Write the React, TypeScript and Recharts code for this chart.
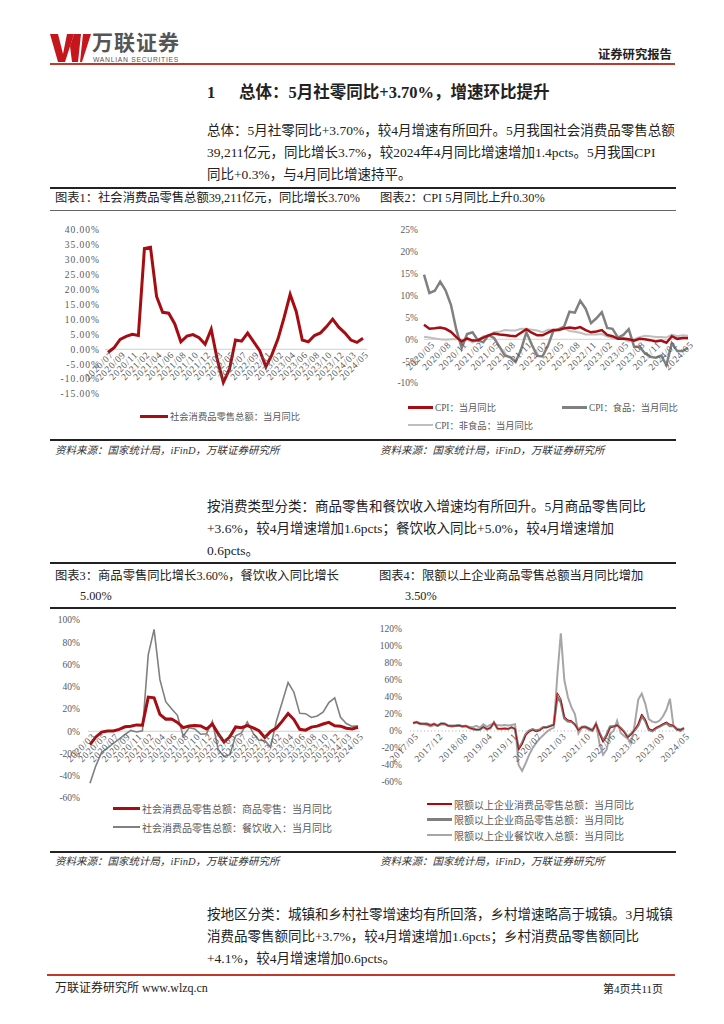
import { LineChart, Line, XAxis, YAxis, ReferenceLine } from 'recharts';

const FONT = '"Liberation Serif", "Noto Sans CJK SC", serif';
const RED = '#a50d12';
const GREY = '#808080';
const LIGHT = '#bfbfbf';
const AXIS_TEXT = '#595959';

// 图表1：社会消费品零售总额当月同比（%），1-2月合并
const retailMonths = [
  '2020/07', '2020/08', '2020/09', '2020/10', '2020/11', '2020/12',
  '2021/02', '2021/03', '2021/04', '2021/05', '2021/06', '2021/07', '2021/08', '2021/09', '2021/10', '2021/11', '2021/12',
  '2022/02', '2022/03', '2022/04', '2022/05', '2022/06', '2022/07', '2022/08', '2022/09', '2022/10', '2022/11', '2022/12',
  '2023/02', '2023/03', '2023/04', '2023/05', '2023/06', '2023/07', '2023/08', '2023/09', '2023/10', '2023/11', '2023/12',
  '2024/02', '2024/03', '2024/04', '2024/05',
];
const retailYoY = [
  -1.1, 0.5, 3.3, 4.3, 5.0, 4.6,
  33.8, 34.2, 17.7, 12.4, 12.1, 8.5, 2.5, 4.4, 4.9, 3.9, 1.7,
  6.7, -3.5, -11.1, -6.7, 3.1, 2.7, 5.4, 2.5, -0.5, -5.9, -1.8,
  3.5, 10.6, 18.4, 12.7, 3.1, 2.5, 4.6, 5.5, 7.6, 10.1, 7.4,
  5.5, 3.1, 2.3, 3.7,
];
const retailTicks = [-15, -10, -5, 0, 5, 10, 15, 20, 25, 30, 35, 40];

// 图表2：CPI 当月同比（%）
const cpiMonths = [
  '2020/04', '2020/05', '2020/06', '2020/07', '2020/08', '2020/09', '2020/10', '2020/11', '2020/12',
  '2021/01', '2021/02', '2021/03', '2021/04', '2021/05', '2021/06', '2021/07', '2021/08', '2021/09', '2021/10', '2021/11', '2021/12',
  '2022/01', '2022/02', '2022/03', '2022/04', '2022/05', '2022/06', '2022/07', '2022/08', '2022/09', '2022/10', '2022/11', '2022/12',
  '2023/01', '2023/02', '2023/03', '2023/04', '2023/05', '2023/06', '2023/07', '2023/08', '2023/09', '2023/10', '2023/11', '2023/12',
  '2024/01', '2024/02', '2024/03', '2024/04', '2024/05',
];
const cpiYoY = [
  3.3, 2.4, 2.5, 2.7, 2.4, 1.7, 0.5, -0.5, 0.2,
  -0.3, -0.2, 0.4, 0.9, 1.3, 1.1, 1.0, 0.8, 0.7, 1.5, 2.3, 1.5,
  0.9, 0.9, 1.5, 2.1, 2.1, 2.5, 2.7, 2.5, 2.8, 2.1, 1.6, 1.8,
  2.1, 1.0, 0.7, 0.1, 0.2, 0.0, -0.3, 0.1, 0.0, -0.2, -0.5, -0.3,
  -0.8, 0.7, 0.1, 0.3, 0.3,
];
const cpiFood = [
  14.8, 10.6, 11.1, 13.2, 11.2, 7.9, 2.2, -2.0, 1.2,
  1.6, -0.2, -0.7, 0.9, 0.3, -1.7, -3.7, -4.1, -5.2, -2.4, 1.6, -1.2,
  -3.8, -3.9, -1.5, 1.9, 2.3, 2.9, 6.3, 6.1, 8.8, 7.0, 3.7, 4.8,
  6.2, 2.6, 2.4, 0.4, 1.0, 2.3, -1.7, -1.7, -3.2, -4.0, -4.2, -3.7,
  -5.9, -0.9, -2.7, -2.7, -2.0,
];
const cpiNonFood = [
  0.6, 0.4, 0.2, 0.0, -0.1, 0.0, 0.0, -0.1, -0.1,
  -0.7, -0.2, 0.7, 0.9, 1.6, 1.7, 2.1, 2.0, 2.0, 2.4, 2.4, 2.2,
  2.0, 1.6, 2.2, 2.2, 2.1, 2.5, 1.9, 1.7, 1.5, 1.1, 1.1, 1.1,
  1.2, 0.6, 0.3, 0.1, 0.0, -0.5, 0.0, 0.5, 0.8, 0.7, 0.5, 0.5,
  0.4, 1.1, 0.7, 0.9, 0.8,
];
const cpiTickMonths = [
  '2020/05', '2020/08', '2020/11', '2021/02', '2021/05', '2021/08', '2021/11', '2022/02', '2022/05',
  '2022/08', '2022/11', '2023/02', '2023/05', '2023/08', '2023/11', '2024/02', '2024/05',
];
const cpiTicks = [-10, -5, 0, 5, 10, 15, 20, 25];

// 图表3：商品零售 / 餐饮收入 当月同比（%）
const typeMonths = [
  '2020/03', '2020/04', '2020/05', '2020/06', '2020/07', '2020/08', '2020/09', '2020/10', '2020/11', '2020/12',
  '2021/02', '2021/03', '2021/04', '2021/05', '2021/06', '2021/07', '2021/08', '2021/09', '2021/10', '2021/11', '2021/12',
  '2022/02', '2022/03', '2022/04', '2022/05', '2022/06', '2022/07', '2022/08', '2022/09', '2022/10', '2022/11', '2022/12',
  '2023/02', '2023/03', '2023/04', '2023/05', '2023/06', '2023/07', '2023/08', '2023/09', '2023/10', '2023/11', '2023/12',
  '2024/02', '2024/03', '2024/04', '2024/05',
];
const goodsYoY = [
  -12.0, -5.1, -0.8, 0.2, 0.2, 1.7, 4.0, 4.5, 5.7, 5.4,
  30.7, 30.0, 15.1, 10.9, 11.0, 8.0, 3.3, 4.7, 5.2, 4.8, 2.0,
  6.5, -2.1, -9.7, -5.0, 3.9, 3.2, 5.1, 3.1, 0.5, -5.6, -0.1,
  2.9, 9.1, 15.9, 10.5, 1.7, 1.0, 3.7, 4.6, 6.5, 8.0, 5.0,
  4.6, 2.7, 2.0, 3.6,
];
const cateringYoY = [
  -46.8, -31.1, -18.9, -15.2, -11.0, -7.0, -2.9, 0.8, -0.6, 0.4,
  68.9, 91.6, 46.4, 26.6, 20.2, 14.3, -4.5, 3.1, 2.0, -2.7, -2.2,
  8.9, -16.4, -22.7, -21.1, -4.0, -1.5, 8.4, -1.7, -8.1, -8.4, -14.1,
  9.2, 26.3, 43.8, 35.1, 16.1, 15.8, 12.4, 13.8, 17.1, 25.8, 30.0,
  12.5, 6.9, 4.4, 5.0,
];
const typeTicks = [-60, -40, -20, 0, 20, 40, 60, 80, 100];

// 图表4：限额以上企业 当月同比（%）
const aboveMonths = [
  '2017/05', '2017/06', '2017/07', '2017/08', '2017/09', '2017/10', '2017/11', '2017/12',
  '2018/02', '2018/03', '2018/04', '2018/05', '2018/06', '2018/07', '2018/08', '2018/09', '2018/10', '2018/11', '2018/12',
  '2019/02', '2019/03', '2019/04', '2019/05', '2019/06', '2019/07', '2019/08', '2019/09', '2019/10', '2019/11', '2019/12',
  '2020/02', '2020/03', '2020/04', '2020/05', '2020/06', '2020/07', '2020/08', '2020/09', '2020/10', '2020/11', '2020/12',
  '2021/02', '2021/03', '2021/04', '2021/05', '2021/06', '2021/07', '2021/08', '2021/09', '2021/10', '2021/11', '2021/12',
  '2022/02', '2022/03', '2022/04', '2022/05', '2022/06', '2022/07', '2022/08', '2022/09', '2022/10', '2022/11', '2022/12',
  '2023/02', '2023/03', '2023/04', '2023/05', '2023/06', '2023/07', '2023/08', '2023/09', '2023/10', '2023/11', '2023/12',
  '2024/02', '2024/03', '2024/04', '2024/05',
];
const aboveTotal = [
  9.5, 10.5, 8.6, 8.3, 8.4, 6.6, 8.2, 6.2,
  8.8, 8.5, 6.3, 5.7, 6.0, 6.5, 5.5, 5.8, 3.8, 2.5, 1.8,
  1.8, 5.0, 2.2, 3.8, 10.0, 3.0, 2.6, 3.0, 2.5, 4.4, 2.5,
  -22.0, -16.0, -5.5, -1.1, 1.0, -0.8, 0.5, 3.8, 4.0, 5.5, 7.0,
  45.0, 38.0, 17.0, 13.0, 12.0, 8.0, 0.5, 4.5, 4.8, 2.7, 0.5,
  8.5, -3.5, -13.0, -6.5, 3.5, 5.0, 7.0, 3.0, -1.5, -7.5, -4.5,
  2.0, 9.0, 20.0, 14.0, 3.0, 1.0, 4.0, 6.0, 8.5, 10.5, 8.0,
  6.5, 2.0, 1.2, 3.5,
];
const aboveGoods = [
  9.3, 10.6, 8.8, 8.4, 8.5, 6.8, 8.3, 6.3,
  8.9, 8.6, 6.2, 5.6, 6.1, 6.6, 5.6, 5.9, 3.7, 2.3, 1.6,
  1.7, 4.8, 2.0, 3.6, 10.2, 2.8, 2.4, 2.9, 2.3, 4.3, 2.3,
  -21.0, -14.0, -4.0, 0.2, 2.0, 0.5, 1.5, 4.5, 4.5, 6.0, 7.5,
  40.0, 34.0, 15.0, 11.5, 11.0, 7.5, 1.5, 4.7, 5.0, 3.0, 1.0,
  8.2, -2.0, -11.5, -4.5, 5.0, 5.5, 6.5, 3.5, -0.8, -7.0, -3.0,
  1.0, 6.5, 17.5, 12.0, 1.5, 0.0, 3.0, 5.0, 7.5, 9.0, 6.0,
  6.0, 1.5, 0.5, 3.5,
];
const aboveCatering = [
  9.0, 10.0, 8.0, 7.8, 7.0, 5.5, 7.0, 6.0,
  7.5, 8.0, 6.0, 6.5, 6.0, 6.0, 5.0, 6.0, 5.0, 4.5, 6.0,
  4.0, 8.0, 5.0, 7.5, 8.0, 7.0, 6.5, 7.0, 6.5, 7.0, 8.0,
  -40.0, -47.0, -38.0, -28.0, -20.0, -14.0, -9.0, -5.0, -1.0, 2.0, 4.0,
  65.0, 115.0, 60.0, 40.0, 28.0, 20.0, -3.0, 4.0, 4.0, 1.0, 0.0,
  9.0, -15.0, -28.0, -22.0, -3.0, 0.0, 12.0, -2.0, -6.0, -9.0, -14.0,
  8.0, 37.0, 44.0, 32.0, 14.0, 11.0, 10.0, 12.0, 17.0, 25.0, 38.0,
  6.0, 3.0, 2.0, 3.0,
];
const aboveTicks = [-60, -40, -20, 0, 20, 40, 60, 80, 100, 120];

const retailData = retailMonths.map((m, i) => ({ month: m, total: retailYoY[i] }));
const cpiData = cpiMonths.map((m, i) => ({ month: m, cpi: cpiYoY[i], food: cpiFood[i], nonFood: cpiNonFood[i] }));
const typeData = typeMonths.map((m, i) => ({ month: m, goods: goodsYoY[i], catering: cateringYoY[i] }));
const aboveData = aboveMonths.map((m, i) => ({
  month: m,
  total: aboveTotal[i],
  goods: aboveGoods[i],
  catering: aboveCatering[i],
}));

// x labels sit on the zero line, not at the bottom of the plot
function slantTick(zeroY: number, size: number) {
  return (props: any) => {
    const { x, payload } = props;
    const tx = x + 6;
    const ty = zeroY + 6;
    return (
      <text
        x={tx}
        y={ty}
        textAnchor="end"
        fontSize={size}
        fill={AXIS_TEXT}
        fontFamily={FONT}
        letterSpacing={0.7}
        transform={`rotate(-45 ${tx} ${ty})`}
      >
        {payload.value}
      </text>
    );
  };
}

const T = ({ x, y, s, w, it, c, ls, children }: any) => (
  <div
    style={{
      position: 'absolute',
      left: x,
      top: y - s * 0.65,
      fontSize: s,
      lineHeight: `${s * 1.3}px`,
      fontWeight: w || 400,
      fontStyle: it ? 'italic' : 'normal',
      color: c || '#222',
      whiteSpace: 'nowrap',
      letterSpacing: ls || 0,
    }}
  >
    {children}
  </div>
);

const Rule = ({ y, h = 1, x1 = 50, x2 = 676, c = '#222' }: any) => (
  <div style={{ position: 'absolute', left: x1, top: y - h / 2, width: x2 - x1, height: h, background: c }} />
);

const Key = ({ x, y, color, lw, len, label, s }: any) => (
  <div style={{ position: 'absolute', left: x, top: y - 8, height: 16, display: 'flex', alignItems: 'center' }}>
    <span style={{ display: 'inline-block', width: len, height: lw, background: color }} />
    <span style={{ fontSize: s, color: AXIS_TEXT, marginLeft: 2, whiteSpace: 'nowrap' }}>{label}</span>
  </div>
);

const yTick = (size: number, ls = 0) => ({ fontSize: size, fill: AXIS_TEXT, fontFamily: FONT, letterSpacing: ls });

export default function App() {
  return (
    <div
      style={{
        position: 'absolute',
        left: 0,
        top: 0,
        width: 724,
        height: 1024,
        background: '#fff',
        fontFamily: FONT,
        color: '#222',
        overflow: 'hidden',
      }}
    >
      {/* header */}
      <svg style={{ position: 'absolute', left: 50, top: 34 }} width={42} height={29}>
        <polygon points="0,0 8,0 13,20 17,0 24,0 15,28 8,28" fill="#c4161c" />
        <polygon points="20,12 24,0 31,0 28,28 22,28" fill="#c4161c" />
        <polygon points="33,0 41,0 32,28 30,28" fill="#c4161c" />
      </svg>
      <T x={92} y={44} s={21} w={700} c="#555" ls={1}>万联证券</T>
      <T x={93} y={60} s={6.8} c="#555" ls={0.7}>
        <span style={{ fontFamily: '"Liberation Sans", sans-serif' }}>WANLIAN SECURITIES</span>
      </T>
      <T x={598} y={56} s={12.3} w={700}>证券研究报告</T>
      <Rule y={64} h={1.5} x1={50} x2={675} c="#c0392b" />

      <T x={207} y={93} s={16.5} w={700}>1</T>
      <T x={239} y={93} s={16.5} w={700}>总体：5月社零同比+3.70%，增速环比提升</T>

      <T x={207} y={131} s={13.5}>总体：5月社零同比+3.70%，较4月增速有所回升。5月我国社会消费品零售总额</T>
      <T x={207} y={153} s={13.5}>39,211亿元，同比增长3.7%，较2024年4月同比增速增加1.4pcts。5月我国CPI</T>
      <T x={207} y={175} s={13.5}>同比+0.3%，与4月同比增速持平。</T>

      <Rule y={188} h={2.5} />
      <T x={55} y={199} s={12.3}>图表1：社会消费品零售总额39,211亿元，同比增长3.70%</T>
      <T x={380} y={199} s={12.3}>图表2：CPI 5月同比上升0.30%</T>
      <Rule y={210} h={1} c="#666" />

      {/* chart 1 */}
      <div style={{ position: 'absolute', left: 50, top: 212 }}>
        <LineChart width={332} height={200} data={retailData} margin={{ top: 18, right: 15, bottom: 17, left: 0 }}>
          <XAxis
            dataKey="month"
            height={1}
            interval={1}
            axisLine={false}
            tickLine={false}
            padding={{ left: 3, right: 4 }}
            tick={slantTick(18 + (164 * 40) / 55, 9.5)}
          />
          <YAxis
            domain={[-15, 40]}
            ticks={retailTicks}
            interval={0}
            width={55}
            axisLine={false}
            tickLine={false}
            tickSize={3}
            tickMargin={2}
            tick={yTick(9.5, 1)}
            tickFormatter={(v: number) => `${v.toFixed(2)}%`}
          />
          <ReferenceLine y={0} stroke="#d0d0d0" strokeWidth={1} />
          <Line type="linear" dataKey="total" stroke={RED} strokeWidth={3} dot={false} isAnimationActive={false} />
        </LineChart>
      </div>
      <Key x={140} y={416} color={RED} lw={3} len={28} s={9.3} label="社会消费品零售总额：当月同比" />

      {/* chart 2 */}
      <div style={{ position: 'absolute', left: 370, top: 212 }}>
        <LineChart width={334} height={190} data={cpiData} margin={{ top: 18, right: 16, bottom: 18, left: 0 }}>
          <XAxis
            dataKey="month"
            height={1}
            ticks={cpiTickMonths}
            interval={0}
            axisLine={false}
            tickLine={false}
            tick={slantTick(18 + (153 * 25) / 35, 9.5)}
          />
          <YAxis
            domain={[-10, 25]}
            ticks={cpiTicks}
            interval={0}
            width={54}
            axisLine={false}
            tickLine={false}
            tickSize={4}
            tickMargin={2}
            tick={yTick(9.5)}
            tickFormatter={(v: number) => `${v}%`}
          />
          <ReferenceLine y={0} stroke="#d0d0d0" strokeWidth={1} />
          <Line type="linear" dataKey="nonFood" stroke={LIGHT} strokeWidth={2} dot={false} isAnimationActive={false} />
          <Line type="linear" dataKey="food" stroke={GREY} strokeWidth={2.5} dot={false} isAnimationActive={false} />
          <Line type="linear" dataKey="cpi" stroke={RED} strokeWidth={2.5} dot={false} isAnimationActive={false} />
        </LineChart>
      </div>
      <Key x={408} y={407} color={RED} lw={3} len={25} s={9.3} label="CPI：当月同比" />
      <Key x={562} y={407} color={GREY} lw={3} len={25} s={9.3} label="CPI：食品：当月同比" />
      <Key x={408} y={425} color={LIGHT} lw={2.5} len={25} s={9.3} label="CPI：非食品：当月同比" />

      <Rule y={440} h={2} />
      <T x={55} y={451} s={10.5} it c="#333">资料来源：国家统计局，iFinD，万联证券研究所</T>
      <T x={380} y={451} s={10.5} it c="#333">资料来源：国家统计局，iFinD，万联证券研究所</T>

      <T x={207} y={507} s={13.5}>按消费类型分类：商品零售和餐饮收入增速均有所回升。5月商品零售同比</T>
      <T x={207} y={529} s={13.5}>+3.6%，较4月增速增加1.6pcts；餐饮收入同比+5.0%，较4月增速增加</T>
      <T x={207} y={551} s={13.5}>0.6pcts。</T>

      <Rule y={563} h={2.5} />
      <T x={55} y={577} s={12.3}>图表3：商品零售同比增长3.60%，餐饮收入同比增长</T>
      <T x={80} y={597} s={12.3}>5.00%</T>
      <T x={379} y={577} s={12.3}>图表4：限额以上企业商品零售总额当月同比增加</T>
      <T x={405} y={597} s={12.3}>3.50%</T>
      <Rule y={608} h={2} />

      {/* chart 3 */}
      <div style={{ position: 'absolute', left: 40, top: 605 }}>
        <LineChart width={339} height={200} data={typeData} margin={{ top: 15, right: 19, bottom: 6, left: 0 }}>
          <XAxis
            dataKey="month"
            height={1}
            interval={1}
            axisLine={false}
            tickLine={false}
            padding={{ left: 2, right: 2 }}
            tick={slantTick(15 + (178 * 100) / 160, 9.5)}
          />
          <YAxis
            domain={[-60, 100]}
            ticks={typeTicks}
            interval={0}
            width={48}
            axisLine={false}
            tickLine={false}
            tickSize={6}
            tickMargin={2}
            tick={yTick(9.5)}
            tickFormatter={(v: number) => `${v}%`}
          />
          <ReferenceLine y={0} stroke="#d0d0d0" strokeWidth={1} />
          <Line type="linear" dataKey="catering" stroke={GREY} strokeWidth={1.6} dot={false} isAnimationActive={false} />
          <Line type="linear" dataKey="goods" stroke={RED} strokeWidth={3} dot={false} isAnimationActive={false} />
        </LineChart>
      </div>
      <Key x={113} y={808} color={RED} lw={3} len={27} s={10} label="社会消费品零售总额：商品零售：当月同比" />
      <Key x={113} y={827} color={GREY} lw={1.6} len={27} s={10} label="社会消费品零售总额：餐饮收入：当月同比" />

      {/* chart 4 */}
      <div style={{ position: 'absolute', left: 370, top: 612 }}>
        <LineChart width={334} height={180} data={aboveData} margin={{ top: 17, right: 18, bottom: 9, left: 0 }}>
          <XAxis
            dataKey="month"
            height={1}
            interval={6}
            axisLine={false}
            tickLine={false}
            padding={{ left: 3, right: 2 }}
            tick={slantTick(17 + (153 * 120) / 180, 9.5)}
          />
          <YAxis
            domain={[-60, 120]}
            ticks={aboveTicks}
            interval={0}
            width={40}
            axisLine={false}
            tickLine={false}
            tickSize={6}
            tickMargin={2}
            tick={yTick(9.5)}
            tickFormatter={(v: number) => `${v}%`}
          />
          <ReferenceLine y={0} stroke="#c8c8c8" strokeWidth={1.5} strokeDasharray="1 2.5" />
          <Line type="linear" dataKey="catering" stroke="#a6a6a6" strokeWidth={2} dot={false} isAnimationActive={false} />
          <Line type="linear" dataKey="goods" stroke="#7f7f7f" strokeWidth={2.5} dot={false} isAnimationActive={false} />
          <Line type="linear" dataKey="total" stroke="#c00000" strokeWidth={1} dot={false} isAnimationActive={false} />
        </LineChart>
      </div>
      <Key x={427} y={804} color="#c00000" lw={2.5} len={25} s={10} label="限额以上企业消费品零售总额：当月同比" />
      <Key x={427} y={819} color="#7f7f7f" lw={3} len={25} s={10} label="限额以上企业商品零售总额：当月同比" />
      <Key x={427} y={835} color="#a6a6a6" lw={2.5} len={25} s={10} label="限额以上企业餐饮收入总额：当月同比" />

      <Rule y={852} h={2} />
      <T x={55} y={862} s={10.5} it c="#333">资料来源：国家统计局，iFinD，万联证券研究所</T>
      <T x={380} y={862} s={10.5} it c="#333">资料来源：国家统计局，iFinD，万联证券研究所</T>

      <T x={207} y={915} s={13.5}>按地区分类：城镇和乡村社零增速均有所回落，乡村增速略高于城镇。3月城镇</T>
      <T x={207} y={937} s={13.5}>消费品零售额同比+3.7%，较4月增速增加1.6pcts；乡村消费品零售额同比</T>
      <T x={207} y={959} s={13.5}>+4.1%，较4月增速增加0.6pcts。</T>

      <Rule y={975} h={2} x1={47} x2={675} c="#c0392b" />
      <T x={55} y={989} s={12}>万联证券研究所 www.wlzq.cn</T>
      <T x={603} y={989} s={11}>第4页共11页</T>
    </div>
  );
}
